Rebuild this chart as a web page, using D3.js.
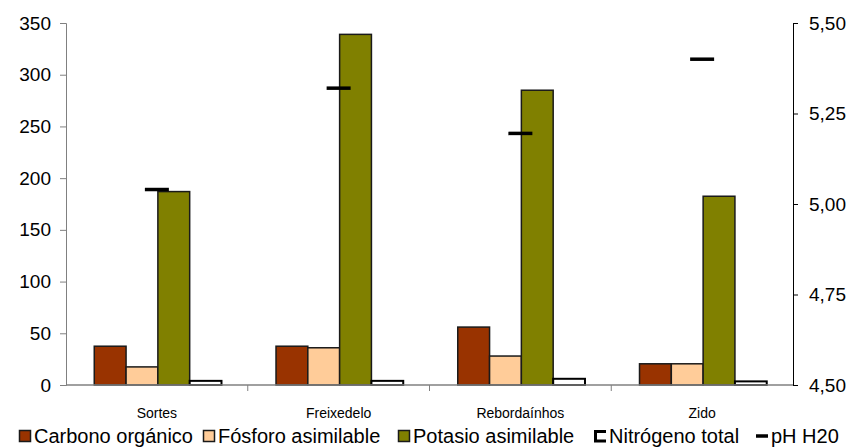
<!DOCTYPE html>
<html><head><meta charset="utf-8">
<script src="https://cdn.jsdelivr.net/npm/d3@7"></script>
<style>body{margin:0;background:#fff}svg{display:block;font-family:"Liberation Sans",Arial,sans-serif}</style>
</head><body><svg id="c" width="851" height="448"></svg>
<script>
const categories = ["Sortes","Freixedelo","Rebordaínhos","Zido"];
const carbono = [37.5, 37.5, 56, 20.5];
const fosforo = [17.5, 36, 28, 20.5];
const potasio = [187, 339, 285, 182.5];
const nitrogeno = [4, 4, 6, 3.5];
const ph = [5.04, 5.32, 5.195, 5.40];
const leftTicks = [0,50,100,150,200,250,300,350];
const rightTicks = [4.50,4.75,5.00,5.25,5.50];
const seriesNames = ["Carbono orgánico","Fósforo asimilable","Potasio asimilable","Nitrógeno total","pH H20"];
const colors = ["#993300","#FFCC99","#808000","#FFFFFF","#000000"];

const svg = d3.select("#c");
const L=66, R=793, T=23, B=385;
const x = d3.scaleBand().domain(categories).range([L,R]).padding(0);
const yL = d3.scaleLinear().domain([0,350]).range([B,T]);
const yR = d3.scaleLinear().domain([4.5,5.5]).range([B,T]);
const barSeries = [carbono, fosforo, potasio, nitrogeno];
const groupFrac = 0.70;
const xs = d3.scaleBand().domain(d3.range(4))
  .range([x.bandwidth()*(1-groupFrac)/2+1, x.bandwidth()*(1+groupFrac)/2+1]).padding(0);

// bars
barSeries.forEach((vals,si)=>{
  svg.append("g").selectAll("rect").data(vals).join("rect")
    .attr("x",(d,i)=>x(categories[i])+xs(si))
    .attr("y",d=>yL(d))
    .attr("width",xs.bandwidth())
    .attr("height",d=>B-yL(d))
    .attr("fill",colors[si])
    .attr("stroke",si===3?"#000":"#1a1a1a").attr("stroke-width",si===3?2:1.5);
});

// x baseline
svg.append("line").attr("x1",L).attr("x2",R).attr("y1",B).attr("y2",B)
  .attr("stroke","#808080").attr("stroke-width",1.5);
// category boundary ticks
categories.slice(1).forEach(c=>{
  svg.append("line").attr("x1",x(c)).attr("x2",x(c)).attr("y1",B).attr("y2",B+6)
    .attr("stroke","#808080").attr("stroke-width",1);
});
// left axis
const gl = svg.append("g").attr("transform",`translate(${L},0)`)
  .call(d3.axisLeft(yL).tickValues(leftTicks).tickSize(6).tickPadding(9).tickFormat(d3.format("d")));
gl.select(".domain").attr("stroke","#808080");
gl.selectAll(".tick line").attr("stroke","#808080");
gl.selectAll("text").attr("font-size",19).attr("fill","#000").attr("font-family","Liberation Sans, Arial, sans-serif");
// right axis
const fmt = d=>d3.format(".2f")(d).replace(".",",");
const gr = svg.append("g").attr("transform",`translate(${R},0)`)
  .call(d3.axisRight(yR).tickValues(rightTicks).tickSize(5).tickPadding(11).tickFormat(fmt));
gr.select(".domain").attr("stroke","#000");
gr.selectAll(".tick line").attr("stroke","#000");
gr.selectAll("text").attr("font-size",19).attr("fill","#000").attr("font-family","Liberation Sans, Arial, sans-serif");

// pH dashes
svg.append("g").selectAll("line").data(ph).join("line")
  .attr("x1",(d,i)=>x(categories[i])+x.bandwidth()/2-12)
  .attr("x2",(d,i)=>x(categories[i])+x.bandwidth()/2+12)
  .attr("y1",d=>yR(d)).attr("y2",d=>yR(d))
  .attr("stroke","#000").attr("stroke-width",3.5);

// category labels
svg.append("g").selectAll("text").data(categories).join("text")
  .attr("x",d=>x(d)+x.bandwidth()/2).attr("y",418)
  .attr("text-anchor","middle").attr("font-size",14).text(d=>d);

// legend
const legX = [19, 203, 398, 594, 756];
const lg = svg.append("g");
seriesNames.forEach((n,i)=>{
  const g = lg.append("g").attr("transform",`translate(${legX[i]},0)`);
  if(i<3){
    g.append("rect").attr("x",0.5).attr("y",430.5).attr("width",11).attr("height",11)
      .attr("fill",colors[i]).attr("stroke","#1a1a1a").attr("stroke-width",1.5);
  } else if(i===3){
    g.append("path").attr("d","M12,431.5 H1.5 V441 H12").attr("fill","none")
      .attr("stroke","#000").attr("stroke-width",3);
  } else {
    g.append("line").attr("x1",0).attr("x2",12).attr("y1",436).attr("y2",436)
      .attr("stroke","#000").attr("stroke-width",3.5);
  }
  g.append("text").attr("x",15).attr("y",443).attr("font-size",20).text(n);
});
</script></body></html>
